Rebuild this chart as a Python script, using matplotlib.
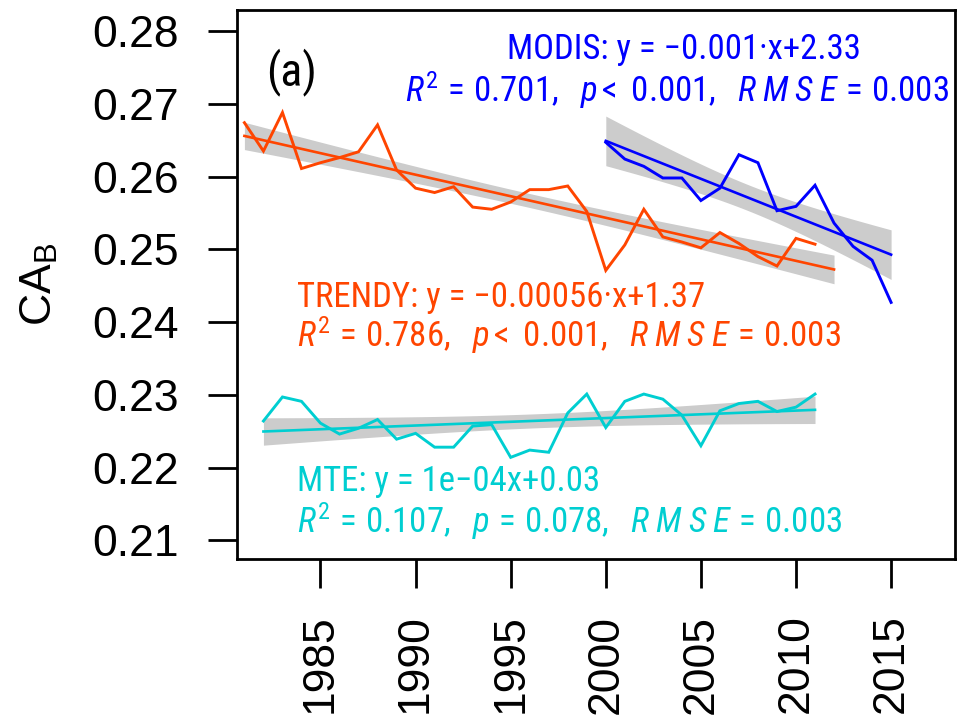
import numpy as np
import matplotlib
matplotlib.use("Agg")
import matplotlib.pyplot as plt

# ---------------- data ----------------
trendy_years = list(range(1981, 2012))
trendy_vals = [0.2674, 0.2635, 0.2688, 0.2611, 0.2619, 0.2626, 0.2634, 0.2671,
               0.2609, 0.2584, 0.2578, 0.2586, 0.2558, 0.2555, 0.2565, 0.2582,
               0.2582, 0.2587, 0.2552, 0.2471, 0.2506, 0.2555, 0.2517, 0.2510,
               0.2502, 0.2523, 0.2508, 0.2490, 0.2477, 0.2515, 0.2507]
trendy_fit_span = [1981, 2012]

modis_years = list(range(2000, 2016))
modis_vals = [0.2647, 0.2624, 0.2614, 0.2598, 0.2598, 0.2567, 0.2584, 0.2630,
              0.2619, 0.2553, 0.2559, 0.2588, 0.2536, 0.2504, 0.2485, 0.2427]
modis_fit_span = [2000, 2015]

mte_years = list(range(1982, 2012))
mte_vals = [0.2264, 0.2297, 0.2291, 0.2261, 0.2246, 0.2254, 0.2266, 0.2239,
            0.2247, 0.2228, 0.2228, 0.2257, 0.2259, 0.2214, 0.2224, 0.2221,
            0.2275, 0.2301, 0.2255, 0.2291, 0.2301, 0.2294, 0.2272, 0.2230,
            0.2278, 0.2288, 0.2291, 0.2277, 0.2283, 0.2301]
mte_fit_span = [1982, 2011]

# two-sided 95% t quantiles for the residual degrees of freedom
t_quantiles = {14: 2.145, 28: 2.048, 29: 2.045}

ytick_vals = [0.21, 0.22, 0.23, 0.24, 0.25, 0.26, 0.27, 0.28]
ytick_labels = ["0.21", "0.22", "0.23", "0.24", "0.25", "0.26", "0.27", "0.28"]
xtick_vals = [1985, 1990, 1995, 2000, 2005, 2010, 2015]
xtick_labels = ["1985", "1990", "1995", "2000", "2005", "2010", "2015"]

modis_lines = ["MODIS: y = \u22120.001\u00b7x+2.33",
               r"$R^{2}\,=\,\mathrm{0.701,}\ \ p<\ \mathrm{0.001,}\ \ R\;M\;S\;E\,=\,\mathrm{0.003}$"]
trendy_lines = ["TRENDY: y = \u22120.00056\u00b7x+1.37",
                r"$R^{2}\,=\,\mathrm{0.786,}\ \ p<\ \mathrm{0.001,}\ \ R\;M\;S\;E\,=\,\mathrm{0.003}$"]
mte_lines = ["MTE: y = 1e\u221204x+0.03",
             r"$R^{2}\,=\,\mathrm{0.107,}\ \ p\,=\,\mathrm{0.078,}\ \ R\;M\;S\;E\,=\,\mathrm{0.003}$"]

# ---------------- style ----------------
cond = "Roboto Condensed"
plt.rcParams["font.family"] = ["Liberation Sans", "DejaVu Sans"]
plt.rcParams["mathtext.fontset"] = "custom"
plt.rcParams["mathtext.rm"] = cond
plt.rcParams["mathtext.it"] = cond + ":italic"
plt.rcParams["mathtext.sf"] = "Liberation Sans"

c_modis = "#0000FF"
c_trendy = "#FF4500"
c_mte = "#00CED1"
c_band = "#CCCCCC"

fig = plt.figure(figsize=(9.58, 7.18), dpi=100)
ax = fig.add_axes([237 / 958, 1 - 559 / 718, (955 - 237) / 958, (559 - 10) / 718])


def fit_and_band(years, vals, span):
    x = np.asarray(years, float)
    y = np.asarray(vals, float)
    n = len(x)
    b, a = np.polyfit(x, y, 1)
    resid = y - (a + b * x)
    s = np.sqrt(np.sum(resid ** 2) / (n - 2))
    xbar = x.mean()
    sxx = np.sum((x - xbar) ** 2)
    xs = np.linspace(span[0], span[1], 200)
    yhat = a + b * xs
    se = s * np.sqrt(1.0 / n + (xs - xbar) ** 2 / sxx)
    t = t_quantiles[n - 2]
    ax.fill_between(xs, yhat - t * se, yhat + t * se, color=c_band, lw=0, zorder=1)
    return xs, yhat


series = [
    (trendy_years, trendy_vals, trendy_fit_span, c_trendy),
    (modis_years, modis_vals, modis_fit_span, c_modis),
    (mte_years, mte_vals, mte_fit_span, c_mte),
]
fits = [fit_and_band(yrs, vals, span) for yrs, vals, span, col in series]
for (yrs, vals, span, col), (xs, yhat) in zip(series, fits):
    ax.plot(yrs, vals, color=col, lw=2.1, zorder=3, solid_joinstyle="miter")
    ax.plot(xs, yhat, color=col, lw=1.9, zorder=3)

ax.set_xlim(1980.61, 2018.36)
ax.set_ylim(0.20743, 0.28289)
ax.set_yticks(ytick_vals)
ax.set_yticklabels(ytick_labels)
ax.set_xticks(xtick_vals)
ax.set_xticklabels(xtick_labels, rotation=90, va="top")
ax.tick_params(axis="both", length=21, width=2.0, labelsize=32, colors="black")
ax.tick_params(axis="y", pad=21)
ax.tick_params(axis="x", pad=19)
for sp in ax.spines.values():
    sp.set_linewidth(2.0)

ax.set_ylabel("CA$_{\\mathsf{B}}$", fontsize=32)
ax.yaxis.set_label_coords(-0.247, 0.5)


def ax_xy(px, py):
    return ((px - 237) / (955 - 237), (559 - py) / (559 - 10))


tfs = 25
ax.text(*ax_xy(292, 72), "(a)", transform=ax.transAxes, ha="center", va="center",
        fontsize=33, family=[cond, "Liberation Sans"])
ax.text(*ax_xy(684, 50), modis_lines[0], transform=ax.transAxes, ha="center", va="center",
        fontsize=tfs, color=c_modis, family=[cond, "Liberation Sans"])
ax.text(*ax_xy(677, 90), modis_lines[1], transform=ax.transAxes, ha="center", va="center",
        fontsize=tfs, color=c_modis)
ax.text(*ax_xy(297, 298), trendy_lines[0], transform=ax.transAxes, ha="left", va="center",
        fontsize=tfs, color=c_trendy, family=[cond, "Liberation Sans"])
ax.text(*ax_xy(297, 335), trendy_lines[1], transform=ax.transAxes, ha="left", va="center",
        fontsize=tfs, color=c_trendy)
ax.text(*ax_xy(297, 482), mte_lines[0], transform=ax.transAxes, ha="left", va="center",
        fontsize=tfs, color=c_mte, family=[cond, "Liberation Sans"])
ax.text(*ax_xy(297, 521), mte_lines[1], transform=ax.transAxes, ha="left", va="center",
        fontsize=tfs, color=c_mte)

fig.savefig("out.png", dpi=100)
